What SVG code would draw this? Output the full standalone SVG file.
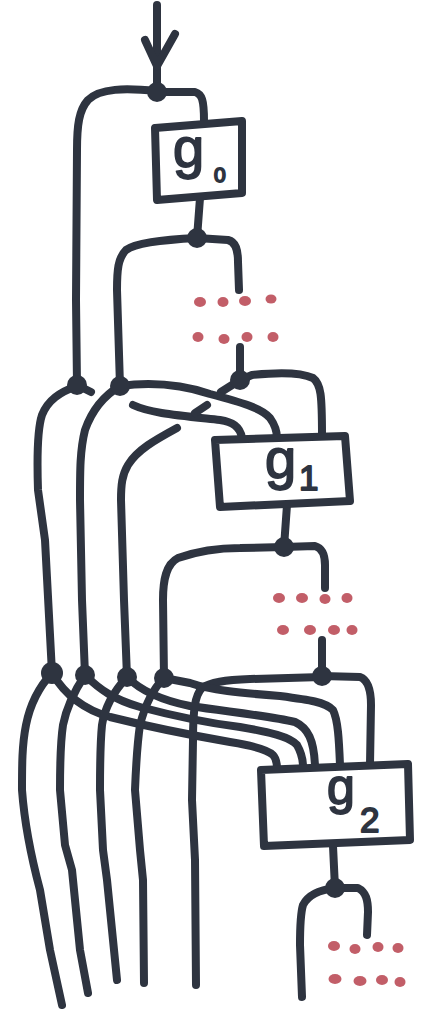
<svg xmlns="http://www.w3.org/2000/svg" width="428" height="1013" viewBox="0 0 428 1013">
<style>
.w{fill:none;stroke:#2e3440;stroke-width:8;stroke-linecap:round;stroke-linejoin:round}
.box{fill:#fff;stroke:#2e3440;stroke-width:8;stroke-linejoin:round}
.j{fill:#2e3440}
.d{fill:#c25e68}
.t{font-family:"Liberation Sans",Arial,sans-serif;fill:#2e3440;stroke:#2e3440;stroke-width:1.8;stroke-linejoin:round}
</style>
<rect width="428" height="1013" fill="#fff"/>
<g id="connectors">
<path class="w" d="M157,5 L157,92"/>
<path class="w" d="M145,40 L157,66 L175,34"/>
<path class="w" d="M157,91 C125,88 100,88 88,100 C79,110 77,125 77,150 L76,300 L77,385"/>
<path class="w" d="M157,92 L195,92 C202,94 204,100 204,121"/>
<path class="w" d="M200,198 L197,238"/>
<path class="w" d="M197,238 C160,240 135,243 126,250 C118,258 117,270 117,290 L120,386"/>
<path class="w" d="M197,238 L228,240 C236,242 238,250 238,262 L239,290"/>
<path class="w" d="M240,347 L240,380"/>
<path class="w" d="M240,380 L252,375 C280,372 300,372 313,378 C321,384 322,395 322,436"/>
<path class="w" d="M240,380 L221,392"/>
<path class="w" d="M77,385 L91,392"/>
<path class="w" d="M77,386 C60,392 48,400 42,415 C37,430 37,460 38,490 L45,540 L52,673"/>
<path class="w" d="M120,386 C105,395 92,410 85,430 C80,450 80,470 80,500 L82,600 L85,675"/>
<path class="w" d="M177,428 C155,440 137,450 128,465 C122,475 121,485 121,500 L124,600 L127,677"/>
<path class="w" d="M120,386 C150,382 180,384 210,394 C240,402 262,408 270,418 C275,425 277,430 277,438"/>
<path class="w" d="M133,405 C150,413 175,415 220,420 C232,422 240,426 242,438"/>
<path class="w" d="M195,413 L207,405"/>
<path class="w" d="M287,505 L284,547"/>
<path class="w" d="M284,547 L240,548 C215,548 195,552 178,558 C166,564 163,580 163,600 L164,678"/>
<path class="w" d="M284,547 L315,546 C322,548 325,555 325,565 L325,588"/>
<path class="w" d="M322,640 L322,676"/>
<path class="w" d="M322,676 L360,677 C368,680 371,690 371,705 L370,764"/>
<path class="w" d="M322,677 L250,679 C225,680 210,682 202,688 C195,695 193,710 193,740 L192,800 L195,860 L196,985"/>
<path class="w" d="M164,678 L190,683 C210,690 240,693 280,696 C310,700 325,702 333,710 C338,720 339,740 340,765"/>
<path class="w" d="M127,677 C140,690 160,700 190,706 C230,712 270,716 295,722 C308,728 314,740 315,766"/>
<path class="w" d="M85,675 C100,690 115,700 140,707 C170,715 200,722 240,727 C270,732 290,737 297,745 C301,752 303,758 303,767"/>
<path class="w" d="M52,673 C65,695 85,710 110,717 C150,727 190,735 230,742 C255,746 268,750 273,755 C276,758 277,762 277,769"/>
<path class="w" d="M52,673 C38,688 30,705 26,725 C22,745 22,765 22,790 C25,830 32,860 40,890 L50,950 L62,1005"/>
<path class="w" d="M85,675 C75,690 67,705 63,725 C60,745 60,765 60,790 L65,845 L72,870 L80,950 L88,993"/>
<path class="w" d="M127,677 C115,690 105,705 102,725 C100,745 100,765 100,790 L103,850 L107,880 L117,980"/>
<path class="w" d="M164,678 C152,690 145,705 140,725 C137,745 136,765 135,790 L140,850 L143,880 L144,983"/>
<path class="w" d="M333,846 L335,888"/>
<path class="w" d="M335,888 C318,890 308,895 303,905 C300,915 300,930 300,945 L302,997"/>
<path class="w" d="M335,888 L358,888 C366,892 368,900 368,912 L367,935"/>
</g>
<g id="g0">
<path class="box" d="M155,128 L242,121 L242,193 L157,200 Z"/>
<text class="t" x="173" y="167" font-size="56">g</text>
<text class="t" x="214" y="182" font-size="21">0</text>
</g>
<g id="g1">
<path class="box" d="M215,440 L345,436 L350,501 L220,507 Z"/>
<text class="t" x="265" y="478" font-size="56">g</text>
<text class="t" x="299" y="490" font-size="35">1</text>
</g>
<g id="g2">
<path class="box" d="M261,770 L408,764 L410,840 L264,846 Z"/>
<text class="t" x="327" y="804" font-size="50">g</text>
<text class="t" x="360" y="832" font-size="35">2</text>
</g>
<g id="junctions">
<circle id="n0" class="j" cx="157" cy="92" r="10"/>
<circle id="n1" class="j" cx="197" cy="238" r="10"/>
<circle id="n2" class="j" cx="77" cy="385" r="10"/>
<circle id="n3" class="j" cx="120" cy="386" r="10"/>
<circle id="n4" class="j" cx="240" cy="380" r="10"/>
<circle id="n5" class="j" cx="284" cy="547" r="10"/>
<circle id="n6" class="j" cx="52" cy="673" r="11"/>
<circle id="n7" class="j" cx="85" cy="675" r="10"/>
<circle id="n8" class="j" cx="127" cy="677" r="10"/>
<circle id="n9" class="j" cx="164" cy="678" r="10"/>
<circle id="n10" class="j" cx="322" cy="676" r="10"/>
<circle id="n11" class="j" cx="335" cy="888" r="10"/>
</g>
<g id="dots1">
<ellipse class="d" cx="200" cy="302" rx="6" ry="5"/>
<ellipse class="d" cx="223" cy="302" rx="5.5" ry="5"/>
<ellipse class="d" cx="245" cy="301" rx="6" ry="5"/>
<ellipse class="d" cx="271" cy="299" rx="5.5" ry="4.5"/>
<ellipse class="d" cx="198" cy="337" rx="5.5" ry="5"/>
<ellipse class="d" cx="224" cy="339" rx="5.5" ry="5"/>
<ellipse class="d" cx="247" cy="337" rx="5.5" ry="5"/>
<ellipse class="d" cx="273" cy="337" rx="5.5" ry="5"/>
</g>
<g id="dots2">
<ellipse class="d" cx="279" cy="598" rx="6" ry="5"/>
<ellipse class="d" cx="302" cy="598" rx="6" ry="5"/>
<ellipse class="d" cx="325" cy="599" rx="5.5" ry="5"/>
<ellipse class="d" cx="347" cy="598" rx="5.5" ry="5"/>
<ellipse class="d" cx="283" cy="630" rx="6" ry="5"/>
<ellipse class="d" cx="310" cy="630" rx="6" ry="5"/>
<ellipse class="d" cx="334" cy="630" rx="6" ry="5"/>
<ellipse class="d" cx="352" cy="630" rx="5.5" ry="5"/>
</g>
<g id="dots3">
<ellipse class="d" cx="334" cy="946" rx="6" ry="5"/>
<ellipse class="d" cx="355" cy="949" rx="5.5" ry="5"/>
<ellipse class="d" cx="378" cy="947" rx="5.5" ry="5"/>
<ellipse class="d" cx="398" cy="948" rx="5.5" ry="5"/>
<ellipse class="d" cx="335" cy="979" rx="6.5" ry="5"/>
<ellipse class="d" cx="360" cy="981" rx="6.5" ry="5"/>
<ellipse class="d" cx="382" cy="980" rx="6" ry="5"/>
<ellipse class="d" cx="400" cy="982" rx="5.5" ry="5"/>
</g>
</svg>
